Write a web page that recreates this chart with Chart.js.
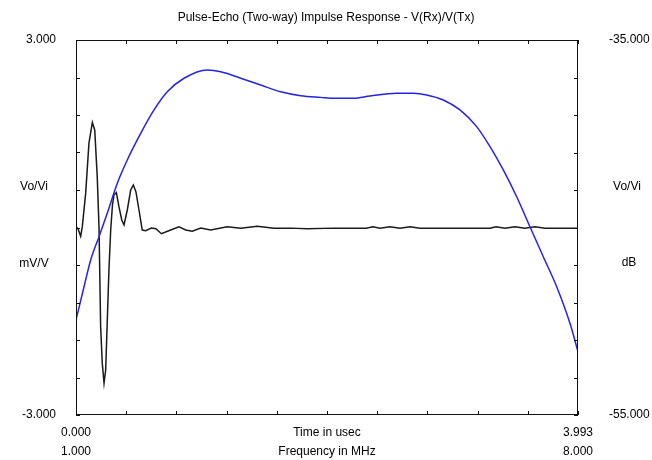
<!DOCTYPE html>
<html>
<head>
<meta charset="utf-8">
<script src="https://cdn.jsdelivr.net/npm/chart.js@4/dist/chart.umd.min.js"></script>
<style>
  body { margin: 0; background: #fff; }
  #wrap { width: 652px; height: 460px; }
</style>
</head>
<body>
<div id="wrap"><canvas id="pulseChart" width="652" height="460"></canvas></div>
<script>
// impulse response, time in usec vs mV/V
var timeUs = [0, 0.016, 0.037, 0.050, 0.077, 0.103, 0.130, 0.149, 0.169, 0.183, 0.196, 0.209, 0.223,
  0.236, 0.249, 0.262, 0.276, 0.290, 0.302, 0.321, 0.342, 0.364, 0.382, 0.408, 0.435, 0.456, 0.477,
  0.501, 0.527, 0.554, 0.599, 0.636, 0.679, 0.753, 0.819, 0.873, 0.925, 0.992, 1.071, 1.203, 1.310,
  1.442, 1.575, 1.708, 1.840, 2.052, 2.307, 2.362, 2.418, 2.498, 2.577, 2.657, 2.736, 2.975, 3.293,
  3.341, 3.412, 3.492, 3.571, 3.651, 3.730, 3.993];
var pulseMv = [0.01, -0.02, -0.14, 0.01, 0.55, 1.35, 1.68, 1.56, 0.81, 0.01, -1.59, -2.17, -2.49,
  -2.28, -1.48, -0.68, -0.04, 0.36, 0.52, 0.56, 0.33, 0.12, 0.04, 0.28, 0.60, 0.68, 0.57,
  0.28, -0.04, -0.05, -0.01, -0.02, -0.10, -0.04, 0.01, -0.04, -0.06, -0.01, -0.04, 0.01, -0.01,
  0.02, -0.01, -0.01, -0.02, -0.01, -0.01, 0.01, -0.01, 0.01, -0.01, 0.01, -0.01, -0.01, -0.01,
  0.01, -0.01, 0.01, -0.01, 0.01, -0.01, -0.01];

// frequency response, MHz vs dB
var freqMHz = [1.000, 1.112, 1.205, 1.321, 1.436, 1.576, 1.715, 1.902, 2.088, 2.273, 2.506, 2.831,
  3.018, 3.297, 3.575, 3.854, 4.133, 4.412, 4.598, 4.867, 5.100, 5.472, 5.703, 5.890, 6.122, 6.354,
  6.587, 6.773, 6.958, 7.145, 7.330, 7.516, 7.703, 7.888, 8.000];
var responseDb = [-49.93, -48.16, -46.73, -45.49, -44.24, -42.64, -41.40, -39.98, -38.73, -37.76,
  -37.04, -36.60, -36.69, -37.04, -37.40, -37.76, -37.97, -38.06, -38.11, -38.11, -37.99, -37.84,
  -37.84, -37.93, -38.20, -38.73, -39.62, -40.69, -41.93, -43.36, -44.96, -46.56, -48.16, -50.11, -51.62];

// ticks (10 divisions on every side) and their labels
var timeTicks = [0, 0.3993, 0.7986, 1.1979, 1.5972, 1.9965, 2.3958, 2.7951, 3.1944, 3.5937, 3.993];
var timeTickLabels = ["0.000", "", "", "", "", "Time in usec", "", "", "", "", "3.993"];
var freqTicks = [1, 1.7, 2.4, 3.1, 3.8, 4.5, 5.2, 5.9, 6.6, 7.3, 8];
var freqTickLabels = ["1.000", "", "", "", "", "Frequency in MHz", "", "", "", "", "8.000"];
var mvTicks = [-3, -2.4, -1.8, -1.2, -0.6, 0, 0.6, 1.2, 1.8, 2.4, 3];
var mvTickLabels = ["-3.000", "", "", "", "", "", "", "", "", "", "3.000"];
var dbTicks = [-55, -53, -51, -49, -47, -45, -43, -41, -39, -37, -35];
var dbTickLabels = ["-55.000", "", "", "", "", "", "", "", "", "", "-35.000"];

Chart.defaults.font.family = "'Liberation Sans', Arial, sans-serif";
Chart.defaults.font.size = 12;
Chart.defaults.color = "#000";

function setTicks(list) {
  return function (scale) {
    scale.ticks = list.map(function (v) { return { value: v }; });
  };
}

// frame, inward tick marks and the unit texts
var framePlugin = {
  id: "frame",
  afterDraw: function (chart) {
    var ctx = chart.ctx;
    var a = chart.chartArea;
    var sx = chart.scales.x, sy = chart.scales.y, sy2 = chart.scales.y2;
    ctx.save();
    ctx.strokeStyle = "#111";
    ctx.lineWidth = 1;
    ctx.strokeRect(Math.round(a.left) + 0.5, Math.round(a.top) + 0.5,
      Math.round(a.right - a.left) - 1, Math.round(a.bottom - a.top) - 1);
    ctx.beginPath();
    timeTicks.forEach(function (v) {
      var px = Math.round(sx.getPixelForValue(v)) + 0.5;
      ctx.moveTo(px, a.top); ctx.lineTo(px, a.top + 4);
      ctx.moveTo(px, a.bottom); ctx.lineTo(px, a.bottom - 4);
    });
    mvTicks.forEach(function (v) {
      var py = Math.round(sy.getPixelForValue(v)) + 0.5;
      ctx.moveTo(a.left, py); ctx.lineTo(a.left + 4, py);
    });
    dbTicks.forEach(function (v) {
      var py = Math.round(sy2.getPixelForValue(v)) + 0.5;
      ctx.moveTo(a.right, py); ctx.lineTo(a.right - 4, py);
    });
    ctx.stroke();

    ctx.fillStyle = "#000";
    ctx.font = "12px 'Liberation Sans', Arial, sans-serif";
    ctx.textAlign = "center";
    ctx.textBaseline = "middle";
    ctx.fillText("Vo/Vi", 34, 187);
    ctx.fillText("mV/V", 34, 264);
    ctx.fillText("Vo/Vi", 627, 187);
    ctx.fillText("dB", 629, 263);
    ctx.restore();
  }
};

new Chart(document.getElementById("pulseChart"), {
  type: "line",
  data: {
    datasets: [{
      label: "Frequency response",
      data: freqMHz.map(function (f, i) { return { x: f, y: responseDb[i] }; }),
      xAxisID: "x2",
      yAxisID: "y2",
      borderColor: "#2424e6",
      borderWidth: 1.5,
      pointRadius: 0,
      cubicInterpolationMode: "monotone",
      order: 0
    }, {
      label: "Impulse response",
      data: timeUs.map(function (t, i) { return { x: t, y: pulseMv[i] }; }),
      xAxisID: "x",
      yAxisID: "y",
      borderColor: "#1a1a1a",
      borderWidth: 1.5,
      pointRadius: 0,
      tension: 0,
      order: 1
    }]
  },
  options: {
    responsive: false,
    animation: false,
    devicePixelRatio: 1,
    layout: { padding: 0 },
    plugins: {
      legend: { display: false },
      tooltip: { enabled: false },
      title: {
        display: true,
        text: "Pulse-Echo (Two-way) Impulse Response - V(Rx)/V(Tx)",
        color: "#000",
        font: { size: 12, weight: "normal", lineHeight: 1 },
        padding: { top: 12, bottom: 16 }
      }
    },
    scales: {
      x: {
        type: "linear", position: "bottom", min: 0, max: 3.993,
        grid: { display: false, drawTicks: false }, border: { display: false },
        afterBuildTicks: setTicks(timeTicks),
        afterFit: function (s) { s.height = 25; },
        ticks: { autoSkip: false, maxRotation: 0, padding: 10,
          callback: function (v, i) { return timeTickLabels[i]; } }
      },
      x2: {
        type: "linear", position: "bottom", min: 1, max: 8,
        grid: { display: false, drawTicks: false }, border: { display: false },
        afterBuildTicks: setTicks(freqTicks),
        afterFit: function (s) { s.height = 20; },
        ticks: { autoSkip: false, maxRotation: 0, padding: 4,
          callback: function (v, i) { return freqTickLabels[i]; } }
      },
      y: {
        type: "linear", position: "left", min: -3, max: 3,
        grid: { display: false, drawTicks: false }, border: { display: false },
        afterBuildTicks: setTicks(mvTicks),
        afterFit: function (s) { s.width = 76; },
        ticks: { autoSkip: false, padding: 20,
          callback: function (v, i) { return mvTickLabels[i]; } }
      },
      y2: {
        type: "linear", position: "right", min: -55, max: -35,
        grid: { display: false, drawTicks: false }, border: { display: false },
        afterBuildTicks: setTicks(dbTicks),
        afterFit: function (s) { s.width = 74; },
        ticks: { autoSkip: false, padding: 31,
          callback: function (v, i) { return dbTickLabels[i]; } }
      }
    }
  },
  plugins: [framePlugin]
});
</script>
</body>
</html>
